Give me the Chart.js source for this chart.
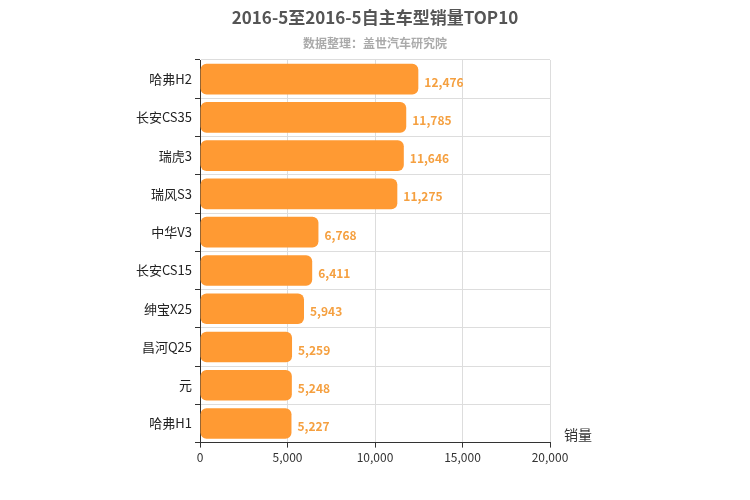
<!DOCTYPE html>
<html><head><meta charset="utf-8">
<script src="https://cdn.jsdelivr.net/npm/chart.js@4/dist/chart.umd.min.js"></script>
<style>html,body{margin:0;background:#fff}#w{width:750px;height:500px}</style>
</head><body><div id="w"><canvas id="c"></canvas></div>
<script>
const categories=["哈弗H2","长安CS35","瑞虎3","瑞风S3","中华V3","长安CS15","绅宝X25","昌河Q25","元","哈弗H1"];
const sales=[12476,11785,11646,11275,6768,6411,5943,5259,5248,5227];
const xTicks=[0,5000,10000,15000,20000];
const F="'Microsoft YaHei','Noto Sans CJK SC',sans-serif";
const labelPlugin={id:'lbl',afterDatasetsDraw(ch){const c=ch.ctx;const m=ch.getDatasetMeta(0);c.save();c.font="bold 12px "+F;c.fillStyle="#F5A040";c.textBaseline="middle";
m.data.forEach((b,i)=>{c.fillText(sales[i].toLocaleString('en-US'),b.x+6,b.y+3);});
const xs=ch.scales.x;c.font="14px "+F;c.fillStyle="#333";c.fillText("销量",xs.right+14,xs.top-8);
c.textAlign="center";c.font="bold 17px "+F;c.fillStyle="#555";c.fillText("2016-5至2016-5自主车型销量TOP10",375,18);
c.font="bold 12px "+F;c.fillStyle="#aaa";c.fillText("数据整理：盖世汽车研究院",375,43);c.restore();}};
new Chart(document.getElementById('c'),{type:'bar',data:{labels:categories,datasets:[{data:sales,backgroundColor:'#FF9A33',borderRadius:6,borderSkipped:false,barPercentage:0.8,categoryPercentage:1}]},
options:{indexAxis:'y',responsive:true,maintainAspectRatio:false,animation:false,
layout:{padding:{left:0,right:200,top:60,bottom:32}},
plugins:{legend:{display:false},tooltip:{enabled:false}},
scales:{x:{min:0,max:20000,afterBuildTicks(s){s.ticks=xTicks.map(v=>({value:v}));},ticks:{color:'#333',font:{family:F,size:12},callback:v=>v.toLocaleString('en-US')},grid:{color:'#ddd',drawTicks:true,tickColor:'#333',tickLength:5},border:{color:'#333'}},
y:{afterFit(s){s.width=200;},ticks:{color:'#222',font:{family:F,size:13}},grid:{color:'#ddd',offset:true,tickColor:'#333',tickLength:5},border:{color:'#333'}}}},
plugins:[labelPlugin]});
</script></body></html>
